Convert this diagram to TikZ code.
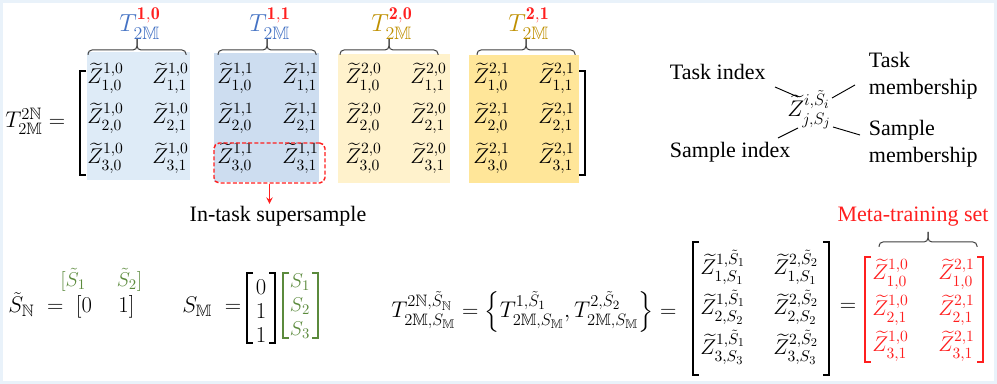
\RequirePackage{fix-cm}
\documentclass[tikz,border=0pt]{standalone}
\usepackage{amsmath,amssymb}
\usepackage{fontspec}
\usetikzlibrary{arrows, positioning, calc}
\newfontfamily\tnr{Liberation Serif}
\DeclareMathSizes{15}{15}{11}{8.5}
\DeclareMathSizes{16}{16}{11.7}{9}
\DeclareMathSizes{17}{17}{12.4}{9.5}
\DeclareMathSizes{18.5}{18.5}{13.5}{10}
\definecolor{marco}{HTML}{E9F2FA}
\definecolor{azuluno}{HTML}{DEEBF7}
\definecolor{azuldos}{HTML}{CDDDF0}
\definecolor{amaruno}{HTML}{FFF2CC}
\definecolor{amardos}{HTML}{FFE699}
\definecolor{azult}{HTML}{4472C4}
\definecolor{oro}{HTML}{BF9000}
\definecolor{rojo}{HTML}{FF1F1F}
\definecolor{verde}{HTML}{5B8A3C}
\tikzset{
  entrada/.style={inner sep=0pt, anchor=base west, font=\fontsize{16}{19}\selectfont},
  entradaroja/.style={entrada, text=rojo},
  titulo/.style={inner sep=0pt, anchor=base, font=\fontsize{18.5}{22}\selectfont},
  formula/.style={inner sep=0pt, anchor=base west, font=\fontsize{17}{20}\selectfont},
  columna/.style={inner sep=0pt, align=center, font=\fontsize{17}{18}\selectfont},
  columnaverde/.style={inner sep=0pt, align=center, text=verde, font=\fontsize{15}{18}\selectfont},
  texto/.style={inner sep=2pt, anchor=base west, align=left, font=\tnr\fontsize{16.5}{20.25}\selectfont},
  corchete/.style={line width=1.5pt, line join=miter},
  llave/.style={draw=black!75, line width=0.75pt, rounded corners=3pt},
  marcorojo/.style={draw=rojo, dash pattern=on 3pt off 1.6pt, line width=1.1pt, rounded corners=4pt,
                    minimum width=83.25pt, minimum height=30pt, inner sep=0pt},
  flecharoja/.style={->, >=stealth, draw=rojo, line width=1.1pt},
  guia/.style={line width=0.7pt}
}
\begin{document}
\begin{tikzpicture}[x=0.75pt, y=-0.75pt]
  \useasboundingbox (0,0) rectangle (997,384);
  \fill [marco] (0,0) rectangle (997,384);
  \fill [white] (3,3) rectangle (994,381);
  \foreach \xa/\ya/\xb/\yb/\col in {87/52/190/180/azuluno, 214/53/319/182/azuldos, 338/54/450/183/amaruno, 469/55/579/183/amardos}
    \fill [\col] (\xa,\ya) rectangle (\xb,\yb);
  \foreach \tx/\ta/\tb/\col [count=\bq] in {137/1/0/azult, 267/1/1/azult, 389/2/0/oro, 526/2/1/oro} {
    \draw [llave] (\tx-49,55) |- (\tx,50) -- (\tx,39);
    \draw [llave] (\tx+49,55) |- (\tx,50) -- (\tx,39);
    \node (tit\bq) [titulo, text=\col] at (\tx+3,32) {$T^{\textcolor{rojo}{\mathbf{\ta,\tb}}}_{2\mathbb{M}}$};
  }
  \foreach \bx/\ta/\tb [count=\bq] in {87/1/0, 217/1/1, 345/2/0, 473/2/1}
    \foreach \fila in {1,2,3} {
      \node (z\bq\fila a) [entrada] at (\bx,44+40*\fila) {$\widetilde{Z}^{\ta,\tb}_{\fila,0}$};
      \node (z\bq\fila b) [entrada] at (\bx+65,44+40*\fila) {$\widetilde{Z}^{\ta,\tb}_{\fila,1}$};
    }
  \node (tizq) [formula] at (5,128) {$T^{2\mathbb{N}}_{2\mathbb{M}} =$};
  \node (super) [marcorojo] at (269.5,163) {};
  \node (insup) [texto, anchor=base] at (278,222) {In-task supersample};
  \draw [flecharoja] (super.south) -- (super.south |- insup.north);

  \node (zgen) [formula] at (787,117) {$\widetilde{Z}^{i,\tilde{S}_i}_{j,S_j}$};
  \node (tind) [texto] at (667,80) {Task index};
  \node (tmem) [texto] at (866,95) {Task\\membership};
  \node (sind) [texto] at (667,158) {Sample index};
  \node (smem) [texto] at (866,163) {Sample\\membership};
  \coordinate (g1a) at (775,87);  \coordinate (g1b) at (798,97);
  \coordinate (g2a) at (832,98);  \coordinate (g2b) at (855,85);
  \coordinate (g3a) at (778,138); \coordinate (g3b) at (798,128);
  \coordinate (g4a) at (833,127); \coordinate (g4b) at (860,135);
  \draw [guia] (g1a) -- (g1b);
  \draw [guia] (g2a) -- (g2b);
  \draw [guia] (g3a) -- (g3b);
  \draw [guia] (g4a) -- (g4b);

  \node (stn) [formula] at (8,313) {$\tilde{S}_{\mathbb{N}} \;=\; [0\quad\, 1]$};
  \node (stv) [formula, text=verde, font=\fontsize{15}{18}\selectfont] at (60,287) {$[\tilde{S}_1\quad\;\; \tilde{S}_2]$};
  \node (sm) [formula] at (182,313) {$S_{\mathbb{M}} \;=$};
  \node (smv) [columna] at (261,311) {$0$\\$1$\\$1$};
  \node (smg) [columnaverde] at (300,306) {$S_1$\\$S_2$\\$S_3$};

  \node (tfor) [formula] at (391,318) {$T^{2\mathbb{N},\tilde{S}_{\mathbb{N}}}_{2\mathbb{M},S_{\mathbb{M}}} = \left\{T^{1,\tilde{S}_1}_{2\mathbb{M},S_{\mathbb{M}}}, T^{2,\tilde{S}_2}_{2\mathbb{M},S_{\mathbb{M}}}\right\} =$};
  \foreach \fila in {1,2,3} {
    \node (m\fila a) [entrada] at (700,235+40*\fila) {$\widetilde{Z}^{1,\tilde{S}_1}_{\fila,S_{\fila}}$};
    \node (m\fila b) [entrada] at (773,235+40*\fila) {$\widetilde{Z}^{2,\tilde{S}_2}_{\fila,S_{\fila}}$};
  }
  \node (igual) [formula, anchor=center] at (848,307) {$=$};
  \foreach \fila/\sv in {1/0, 2/1, 3/1} {
    \node (r\fila a) [entradaroja] at (872,244+36*\fila) {$\widetilde{Z}^{1,0}_{\fila,\sv}$};
    \node (r\fila b) [entradaroja] at (938,244+36*\fila) {$\widetilde{Z}^{2,1}_{\fila,\sv}$};
  }
  \node (meta) [texto, anchor=base, text=rojo] at (913,222) {Meta-training set};
  \draw [llave] (879,247) |- (928,242) -- (928,232);
  \draw [llave] (977,247) |- (928,242) -- (928,232);

  \foreach \xa/\xb/\ya/\yb/\col/\lw in {80/585/71/175/black/1.5pt, 693/829/242/375/black/1.5pt,
                                          865/983/257/362/rojo/1.5pt, 247/275/273/343/black/1.3pt, 283/318/273/338/verde/0.9pt} {
    \draw [corchete, draw=\col, line width=\lw] (\xa+6,\ya) -- (\xa,\ya) -- (\xa,\yb) -- (\xa+6,\yb);
    \draw [corchete, draw=\col, line width=\lw] (\xb-6,\ya) -- (\xb,\ya) -- (\xb,\yb) -- (\xb-6,\yb);
  }
\end{tikzpicture}
\end{document}
